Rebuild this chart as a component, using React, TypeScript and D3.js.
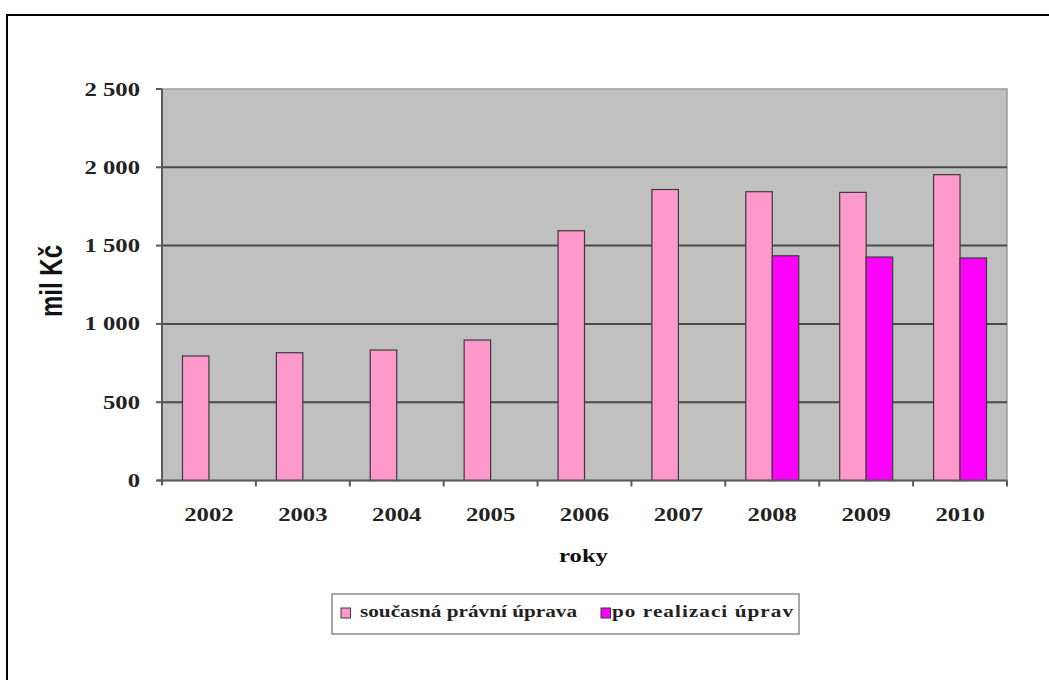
import React from 'react';
import * as d3 from 'd3';

const years = ['2002', '2003', '2004', '2005', '2006', '2007', '2008', '2009', '2010'];
const seriesNames = ['současná právní úprava', 'po realizaci úprav'];
const current = [795, 816, 833, 897, 1595, 1858, 1844, 1840, 1953];
const after = [null, null, null, null, null, null, 1435, 1427, 1421];
const yTicks = [0, 500, 1000, 1500, 2000, 2500];
const colors = ['#ff99cc', '#ff00ff'];

const W = 1049;
const H = 680;
const plot = { left: 162, right: 1007, top: 89, bottom: 480.5 };
const SX = 1.3; // the source picture is stretched sideways

const fmt = d3.formatLocale({ decimal: ',', thousands: ' ', grouping: [3], currency: ['', ''] }).format(',');

// legend layout: swatch x, text x, text width
const legendItems = [
  { sx: 341, tx: 360, tw: 217 },
  { sx: 601, tx: 612, tw: 181 },
];

const App = () => {
  const x0 = d3.scaleBand().domain(years).range([plot.left, plot.right]);
  const bw = x0.bandwidth();
  const group = 0.564;
  const x1 = d3.scaleBand().domain(['0', '1']).range([bw * (1 - group) / 2, bw * (1 + group) / 2]);
  const y = d3.scaleLinear().domain([0, 2500]).range([plot.bottom, plot.top]);

  const serif = '"Liberation Serif", "Times New Roman", serif';
  const sans = '"Liberation Sans", Arial, sans-serif';

  const data = [current, after];

  return (
    <svg width={W} height={H} style={{ position: 'absolute', left: 0, top: 0 }}>
      <rect x={0} y={0} width={W} height={H} fill="#fff" />
      <rect x={7} y={15} width={W + 20} height={H + 20} fill="none" stroke="#000" strokeWidth={2} />

      {/* plot area */}
      <rect x={plot.left} y={plot.top} width={plot.right - plot.left} height={plot.bottom - plot.top}
        fill="#c0c0c0" stroke="#9a9a9a" strokeWidth={1.5} />

      {yTicks.filter(t => t > 0 && t < 2500).map(t => (
        <line key={t} x1={plot.left} x2={plot.right} y1={y(t)} y2={y(t)} stroke="#4a4a4a" strokeWidth={2} />
      ))}

      {data.map((vals, si) =>
        vals.map((v, i) => v == null ? null : (
          <rect key={si + '-' + i}
            x={x0(years[i])! + x1(String(si))!}
            y={y(v)}
            width={x1.bandwidth()}
            height={y(0) - y(v)}
            fill={colors[si]} stroke="#3a3a3a" strokeWidth={1.2} />
        ))
      )}

      {/* axes */}
      <line x1={plot.left} x2={plot.left} y1={plot.top} y2={plot.bottom + 5} stroke="#5a5a5a" strokeWidth={2} />
      <line x1={plot.left - 5} x2={plot.right} y1={plot.bottom} y2={plot.bottom} stroke="#5a5a5a" strokeWidth={2} />
      {yTicks.map(t => (
        <g key={t}>
          <line x1={plot.left - 6} x2={plot.left} y1={y(t)} y2={y(t)} stroke="#5a5a5a" strokeWidth={2} />
          <g transform={`translate(140,${y(t) + 6.5}) scale(${SX},1)`}>
            <text textAnchor="end" fontFamily={serif} fontWeight="bold" fontSize={19} fill="#222">{fmt(t)}</text>
          </g>
        </g>
      ))}
      {years.map(yr => (
        <line key={'t' + yr} x1={x0(yr)! + bw} x2={x0(yr)! + bw} y1={plot.bottom} y2={plot.bottom + 6}
          stroke="#5a5a5a" strokeWidth={2} />
      ))}
      {years.map(yr => (
        <g key={'l' + yr} transform={`translate(${x0(yr)! + bw / 2},521) scale(${SX},1)`}>
          <text textAnchor="middle" fontFamily={serif} fontWeight="bold" fontSize={19} fill="#222">{yr}</text>
        </g>
      ))}

      <g transform={`translate(583.5,562) scale(${SX},1)`}>
        <text textAnchor="middle" fontFamily={serif} fontWeight="bold" fontSize={19} fill="#111">roky</text>
      </g>
      <g transform={`translate(62,281) scale(${SX},1) rotate(-90)`}>
        <text textAnchor="middle" fontFamily={sans} fontWeight="bold" fontSize={24} fill="#111">mil Kč</text>
      </g>

      {/* legend */}
      <rect x={332} y={594} width={467} height={40} fill="#fff" stroke="#8a8a8a" strokeWidth={1.5} />
      {seriesNames.map((name, i) => {
        const it = legendItems[i];
        return (
          <g key={name}>
            <rect x={it.sx} y={608} width={9.5} height={10} fill={colors[i]} stroke="#3a3a3a" strokeWidth={1} />
            <g transform={`translate(${it.tx},616.5) scale(${SX},1)`}>
              <text fontFamily={serif} fontWeight="bold" fontSize={16.3} fill="#222"
                textLength={it.tw / SX} lengthAdjust="spacing">{name}</text>
            </g>
          </g>
        );
      })}
    </svg>
  );
};

export default App;
